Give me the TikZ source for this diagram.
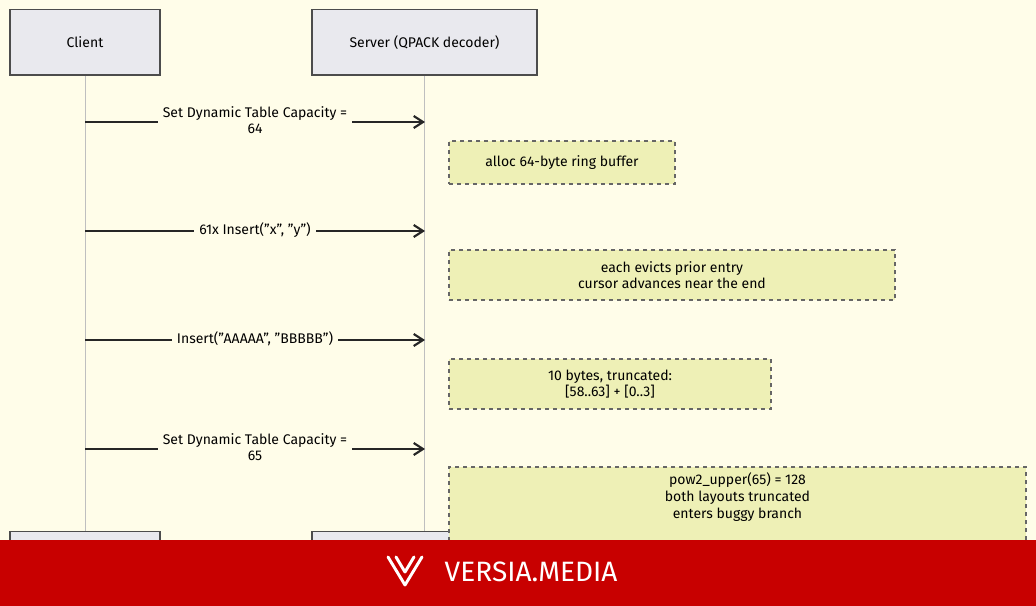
\documentclass[tikz,border=0pt]{standalone}
\usepackage{fontspec}
\setmainfont{Fira Sans}
\newcommand\myq{\char34{}}
\begin{document}
\definecolor{bg}{HTML}{FFFDE9}
\definecolor{actor}{HTML}{E9E9EE}
\definecolor{note}{HTML}{EEF0B6}
\definecolor{banner}{HTML}{C80000}
\begin{tikzpicture}[x=0.75pt,y=-0.75pt,
  actor/.style={draw=black!70,fill=actor,line width=1pt,minimum height=49pt,inner sep=0pt,font=\fontsize{10.5}{12.5}\selectfont},
  msg/.style={draw=black!85,line width=1.6pt,-{Straight Barb[length=7pt,width=9pt]}},
  lbl/.style={fill=bg,inner sep=4pt,align=center,font=\fontsize{10.5}{12.5}\selectfont},
  note/.style={draw=black!60,fill=note,dashed,line width=1.2pt,align=center,inner sep=0pt,font=\fontsize{10.5}{12.5}\selectfont},
  life/.style={draw=black!25,line width=0.6pt}]
\usetikzlibrary{arrows.meta}
\fill[bg] (0,0) rectangle (1036,606);
\node[actor,minimum width=112.5pt] (c) at (85,42.5) {Client};
\node[actor,minimum width=168.75pt] (s) at (424.5,42.5) {Server (QPACK decoder)};
\node[actor,minimum width=112.5pt] (cb) at (85,564) {};
\node[actor,minimum width=168.75pt] (sb) at (424.5,564) {};
\draw[life] (c.south) -- (cb.north);
\draw[life] (s.south) -- (sb.north);
% messages
\foreach \y/\n in {122/1,231/2,340/3,449/4}{
  \coordinate (a\n) at (85,\y); \coordinate (b\n) at (425,\y);
  \draw[msg] (a\n) -- (b\n);}
\node[lbl] at (255,120) {Set Dynamic Table Capacity =\\64};
\node[lbl] at (255,230) {61x Insert(\myq x\myq, \myq y\myq)};
\node[lbl] at (255,339) {Insert(\myq AAAAA\myq, \myq BBBBB\myq)};
\node[lbl] at (255,447) {Set Dynamic Table Capacity =\\65};
% notes
\node[note,minimum width=169.5pt,minimum height=32.25pt] (n1) at (562,162.5) {alloc 64-byte ring buffer};
\node[note,minimum width=334.5pt,minimum height=37.5pt] (n2) at (672,275) {each evicts prior entry\\cursor advances near the end};
\node[note,minimum width=241.5pt,minimum height=37.5pt] (n3) at (610,384) {10 bytes, truncated:\\{}[58..63] + [0..3]};
\node[note,minimum width=432.75pt,minimum height=60pt] (n4) at (737.5,507) {};
\node[align=center,font=\fontsize{10.5}{12.5}\selectfont] at (737.5,497) {pow2\_upper(65) = 128\\both layouts truncated\\enters buggy branch};
% banner
\fill[banner] (0,540) rectangle (1036,606);
\draw[white,line width=2.2pt,line cap=round,line join=round] (388,557) -- (405,585) -- (422,557);
\draw[white,line width=2.2pt,line cap=round,line join=round] (396,557) -- (405,572) -- (414,557);
\node[white,anchor=west,font=\fontsize{21}{24}\selectfont] at (440,572) {VERSIA.MEDIA};
\end{tikzpicture}
\end{document}
